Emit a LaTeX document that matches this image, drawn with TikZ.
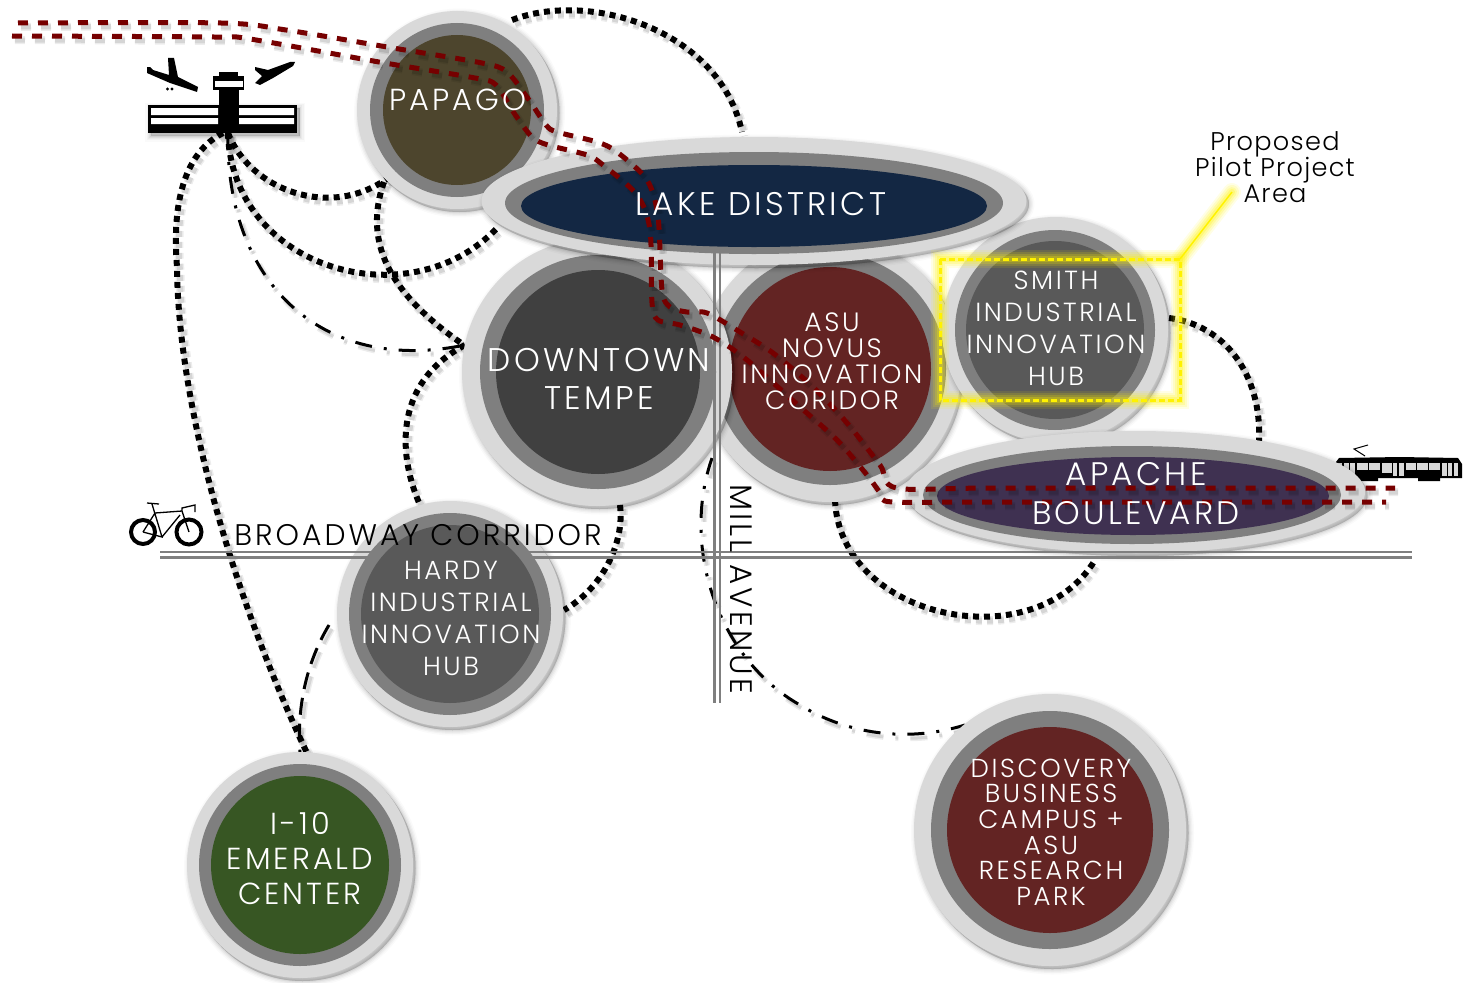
\documentclass[tikz,border=0pt]{standalone}
\usepackage{fontspec}
\setmainfont{Poppins Light}
\newfontfamily\wideface{Poppins Light}[LetterSpace=10]
\newfontfamily\pilotface{Poppins Light}[LetterSpace=5]
\usetikzlibrary{shapes.geometric}
\definecolor{ringlight}{HTML}{D9D9D9}
\definecolor{ringmid}{HTML}{7F7F7F}
\definecolor{maroon}{HTML}{760000}
\definecolor{cpapago}{HTML}{4D452D}
\definecolor{clake}{HTML}{132743}
\definecolor{cdown}{HTML}{404040}
\definecolor{casu}{HTML}{632423}
\definecolor{chub}{HTML}{595959}
\definecolor{capache}{HTML}{3F3151}
\definecolor{cgreen}{HTML}{375623}
\newcommand{\fs}[2]{\wideface\fontsize{#1}{#2}\selectfont\lineskip=0pt\lineskiplimit=-1000pt }
\newcommand{\fsp}[2]{\pilotface\fontsize{#1}{#2}\selectfont\lineskip=0pt\lineskiplimit=-1000pt }
\tikzset{
  ringshadow/.style={
    preaction={draw=black,fill=black,line width=11pt,opacity=.02,transform canvas={shift={(2.5pt,-3pt)}}},
    preaction={draw=black,fill=black,line width=8pt,opacity=.03,transform canvas={shift={(2.5pt,-3pt)}}},
    preaction={draw=black,fill=black,line width=5.5pt,opacity=.04,transform canvas={shift={(2.5pt,-3pt)}}},
    preaction={draw=black,fill=black,line width=3pt,opacity=.05,transform canvas={shift={(2.5pt,-3pt)}}},
    preaction={draw=black,fill=black,line width=1pt,opacity=.06,transform canvas={shift={(2.5pt,-3pt)}}}},
  lineshadow/.style 2 args={
    preaction={draw=black,opacity=.07,line width=#1+3pt,dash pattern=#2,transform canvas={shift={(3pt,-4pt)}}},
    preaction={draw=black,opacity=.10,line width=#1,dash pattern=#2,transform canvas={shift={(3pt,-4pt)}}}},
  dots/.style={draw=black,line width=6pt,dash pattern=on 6pt off 5pt,lineshadow={6pt}{on 6pt off 5pt}},
  dashdot/.style={draw=black,line width=3pt,dash pattern=on 17pt off 12pt on 3pt off 12pt,lineshadow={3pt}{on 17pt off 12pt on 3pt off 12pt}},
  longdash/.style={draw=black,line width=3pt,dash pattern=on 17pt off 9pt,lineshadow={3pt}{on 17pt off 9pt}},
  rail/.style={draw=maroon,line width=5pt,dash pattern=on 10pt off 10pt,lineshadow={5pt}{on 10pt off 10pt}},
  road/.style={draw=ringmid,line width=2.4pt},
  wlabel/.style={text=white,align=center,inner sep=0pt},
  klabel/.style={text=black,align=center,inner sep=0pt},
  roundpart/.style={ellipse,inner sep=0pt},
}
% name, centre, outer rx, ry, mid rx, ry, inner rx, ry, colour
\newcommand{\hub}[9]{%
  \node[roundpart,minimum width=2*#3,minimum height=2*#4,fill=ringlight,ringshadow] (#1) at #2 {};
  \node[roundpart,minimum width=2*#5,minimum height=2*#6,fill=ringmid] (#1m) at #2 {};
  \node[roundpart,minimum width=2*#7,minimum height=2*#8,fill=#9] (#1i) at #2 {};
}
\begin{document}
\begin{tikzpicture}[x=1pt,y=-1pt]
\useasboundingbox (0,0) rectangle (1463,982);

% airport icon
\node[fill=black,minimum width=149pt,minimum height=28pt,inner sep=0pt,ringshadow] (apt) at (222.5,119) {};
\fill[white] (151,108) rectangle (218,115) (239,108) rectangle (294,115);
\fill[white] (151,118) rectangle (218,124) (239,118) rectangle (294,124);
\fill[black] (219,88) rectangle (239,133);
\fill[black] (219,72) rectangle (238,78);
\fill[black] (213,76) rectangle (244,90);
\fill[white] (214.5,81) rectangle (243,87);
\fill[black] (147,67) -- (150,67) -- (153,70) -- (169,75) -- (168,58) -- (174,58) -- (178,77) -- (198,87) -- (197,92) -- (170,83) -- (147,73) -- cycle;
\fill[black] (167.5,89) circle (1.6) (172,89) circle (1.6);
\fill[black] (255,67) -- (268,70) -- (290,62) -- (295,62) -- (293,66) -- (273,78) -- (260,85) -- (255,83) -- (262,76) -- (255,70) -- cycle;

% bicycle
\node[circle,draw=black,line width=4pt,minimum size=24pt,inner sep=0pt] (wheelA) at (143,532) {};
\node[circle,draw=black,line width=4pt,minimum size=25pt,inner sep=0pt] (wheelB) at (189,532) {};
\draw[black,line width=1.3pt] (wheelA.center) -- (155,513) -- (182,511) -- (wheelB.center)
  (152,504) -- (162,537) -- (wheelA.center) (162,537) -- (180,515)
  (147,503) -- (159,504) (182,511) -- (182,508) -- (195,505) -- (195,512);

% tram
\fill[black] (1336,462) -- (1339,458) -- (1400,457) -- (1458,458) -- (1462,464) -- (1462,478) -- (1336,478) -- cycle;
\fill[black] (1357,478) rectangle (1378,481) (1418,478) rectangle (1440,481);
\foreach \a/\b in {1337/1342,1344/1349,1350/1355,1393/1397,1399/1404,1442/1447,1448/1452,1454/1458}
  \fill[ringlight] (\a,463) rectangle (\b,476);
\foreach \a/\b in {1357/1368,1369/1380,1406/1416,1417/1428,1429/1440}
  \fill[ringlight] (\a,463) rectangle (\b,470);
\fill[ringlight] (1382,463) rectangle (1392,473);
\draw[black,line width=1pt] (1365,456) -- (1354,449) -- (1368,445);

% connector ends
\coordinate (a1) at (228,133);
\coordinate (a2) at (223,133);
\coordinate (pT) at (512,20);
\coordinate (lT) at (742,132);
\coordinate (pL) at (388,178);
\coordinate (pL2) at (384,182);
\coordinate (lL) at (497,228);
\coordinate (dL) at (465,345);
\coordinate (dL2) at (461,343);
\coordinate (hT) at (420,505);
\coordinate (dB) at (620,505);
\coordinate (hR) at (564,610);
\coordinate (eT) at (307,753);
\coordinate (eT2) at (300,752);
\coordinate (hL) at (329,625);
\coordinate (mS) at (712,458);
\coordinate (mQ) at (800,705);
\coordinate (disc) at (965,725);
\coordinate (aB) at (835,500);
\coordinate (aC) at (1095,560);
\coordinate (sR) at (1169,318);
\coordinate (aT) at (1259,441);
\coordinate (aQ) at (177,267);

\draw[dots] (pT) .. controls (590,-10) and (720,30) .. (lT);
\draw[dots] (a1) .. controls (250,190) and (330,220) .. (pL);
\draw[dots] (a1) .. controls (232,270) and (410,320) .. (lL);
\draw[dots] (pL2) .. controls (360,250) and (400,300) .. (dL2);
\draw[dots] (a2) .. controls (170,160) and (175,240) .. (aQ) .. controls (178,400) and (230,590) .. (eT);
\draw[dots] (dL) .. controls (390,385) and (400,460) .. (hT);
\draw[dots] (dB) .. controls (625,545) and (600,590) .. (hR);
\draw[dots] (aB) .. controls (840,620) and (1035,660) .. (aC);
\draw[dots] (sR) .. controls (1225,325) and (1262,375) .. (aT);
\draw[dashdot] (a1) .. controls (225,280) and (320,375) .. (dL);
\draw[dashdot] (mS) .. controls (680,550) and (720,660) .. (mQ) .. controls (840,730) and (900,745) .. (disc);
\draw[longdash] (hL) .. controls (305,665) and (297,710) .. (eT2);

% hubs
\hub{asu}{(830,369)}{131}{133}{116}{116}{101}{102}{casu}
\node[roundpart,minimum width=270pt,minimum height=268pt,fill=ringlight,ringshadow] (down) at (597,372) {};
\node[roundpart,minimum width=236pt,minimum height=234pt,fill=ringmid] (downm) at (598,372) {};
\node[roundpart,minimum width=204pt,minimum height=204pt,fill=cdown] (downi) at (598,372) {};
\hub{smith}{(1055,330)}{113}{113}{100}{100}{89}{89}{chub}
\hub{papago}{(457,110)}{100}{99}{87}{87}{74}{75}{cpapago}
\node[roundpart,minimum width=545pt,minimum height=128pt,fill=ringlight,ringshadow] (lake) at (754,201) {};
\node[roundpart,minimum width=498pt,minimum height=102pt,fill=ringmid] (lakem) at (754,203) {};
\node[roundpart,minimum width=466pt,minimum height=82pt,fill=clake] (lakei) at (754,206) {};
\node[roundpart,minimum width=460pt,minimum height=122pt,fill=ringlight,ringshadow] (apache) at (1135,492) {};
\node[roundpart,minimum width=418pt,minimum height=98pt,fill=ringmid] (apachem) at (1132,495) {};
\node[roundpart,minimum width=392pt,minimum height=78pt,fill=capache] (apachei) at (1133,496) {};
\hub{emerald}{(300,865)}{113}{113}{101}{101}{89}{89}{cgreen}
\hub{disc}{(1050,830)}{136}{136}{119}{119}{103}{103}{casu}
\node[roundpart,minimum width=226pt,minimum height=226pt,fill=ringlight,ringshadow] (hardy) at (450,614) {};
\node[roundpart,minimum width=202pt,minimum height=202pt,fill=ringmid] (hardym) at (450,614) {};

% roads
\coordinate (bW) at (160,552);\coordinate (bE) at (1412,552);
\coordinate (bW2) at (160,557.5);\coordinate (bE2) at (1412,557.5);
\coordinate (mN) at (714.5,250);\coordinate (mS1) at (714.5,703);
\coordinate (mN2) at (720,250);\coordinate (mS2) at (720,703);
\draw[road] (bW) -- (bE);
\draw[road] (bW2) -- (bE2);
\draw[road] (mN) -- (mS1);
\draw[road] (mN2) -- (mS2);
\node[roundpart,minimum width=178pt,minimum height=178pt,fill=chub] (hardyi) at (450,614) {};

% rail
\coordinate (r1) at (18,23);\coordinate (r2) at (12,36);
\coordinate (r3) at (1395,488);\coordinate (r4) at (1386,502);
\draw[rail] plot[smooth,tension=.5] coordinates {(r1) (221,23) (286,30) (393,48) (482,63) (507,72) (529,100) (546,125) (557,132) (597,142) (617,152) (647,180) (658,217) (662,290) (670,307) (687,312) (707,313) (740,332) (773,353) (813,387) (847,423) (880,465) (897,488) (1000,488) (r3)};
\draw[rail] plot[smooth,tension=.5] coordinates {(r2) (214,37) (250,39) (379,62) (475,78) (496,85) (514,113) (532,137) (548,145) (587,155) (603,165) (637,195) (650,230) (652,303) (658,320) (680,325) (713,337) (747,360) (800,407) (837,440) (867,475) (882,495) (893,502) (1000,502) (r4)};

% pilot box
\coordinate (bxTR) at (1180,259);\coordinate (bxTL) at (940,259);\coordinate (bxBR) at (1180,400);\coordinate (bxBL) at (940,400);
\coordinate (pilotEnd) at (1232,192);
\foreach \w/\o in {18/.10,14/.14,10/.18,6/.25}{
  \draw[yellow,line width=\w pt,opacity=\o] (bxTL) -- (bxTR) -- (bxBR) -- (bxBL) -- cycle;
  \draw[yellow,line width=\w pt,opacity=\o,line cap=round] (bxTR) -- (pilotEnd);
}
\draw[yellow,line width=3pt,dash pattern=on 6pt off 3pt] (bxTL) -- (bxTR) -- (bxBR) -- (bxBL) -- cycle;
\draw[yellow,line width=1.5pt] (bxTR) -- (pilotEnd);

% labels
\node[wlabel,font=\fs{30.4}{30}] (tPapago) at (458,100) {PAPAGO};
\node[wlabel,font=\fs{32.7}{30}] (tLake) at (761,204) {LAKE DISTRICT};
\node[wlabel,font=\fs{32.8}{38}] (tDown) at (599,379) {DOWNTOWN\\TEMPE};
\node[wlabel,font=\fs{26.5}{26}] (tAsu) at (832,361) {ASU\\NOVUS\\INNOVATION\\CORIDOR};
\node[wlabel,font=\fs{26.2}{32}] (tSmith) at (1056,328) {SMITH\\INDUSTRIAL\\INNOVATION\\HUB};
\node[wlabel,font=\fs{32.6}{39}] (tApache) at (1136,494) {APACHE\\BOULEVARD};
\node[wlabel,font=\fs{26.2}{32}] (tHardy) at (451,618) {HARDY\\INDUSTRIAL\\INNOVATION\\HUB};
\node[wlabel,font=\fs{30.4}{35}] (tEm) at (300,859) {I-10\\EMERALD\\CENTER};
\node[wlabel,font=\fs{26}{25.6}] (tDisc) at (1051,832) {DISCOVERY\\BUSINESS\\CAMPUS +\\ASU\\RESEARCH\\PARK};
\node[klabel,font=\fsp{25.6}{26}] (tPilot) at (1275,167) {Proposed\\Pilot Project\\Area};
\node[klabel,font=\fs{29.8}{30}] (tBroad) at (418,535) {BROADWAY CORRIDOR};
\node[klabel,font=\fs{31}{30},rotate=-90] (tMill) at (741,589) {MILL AVENUE};
\end{tikzpicture}
\end{document}
